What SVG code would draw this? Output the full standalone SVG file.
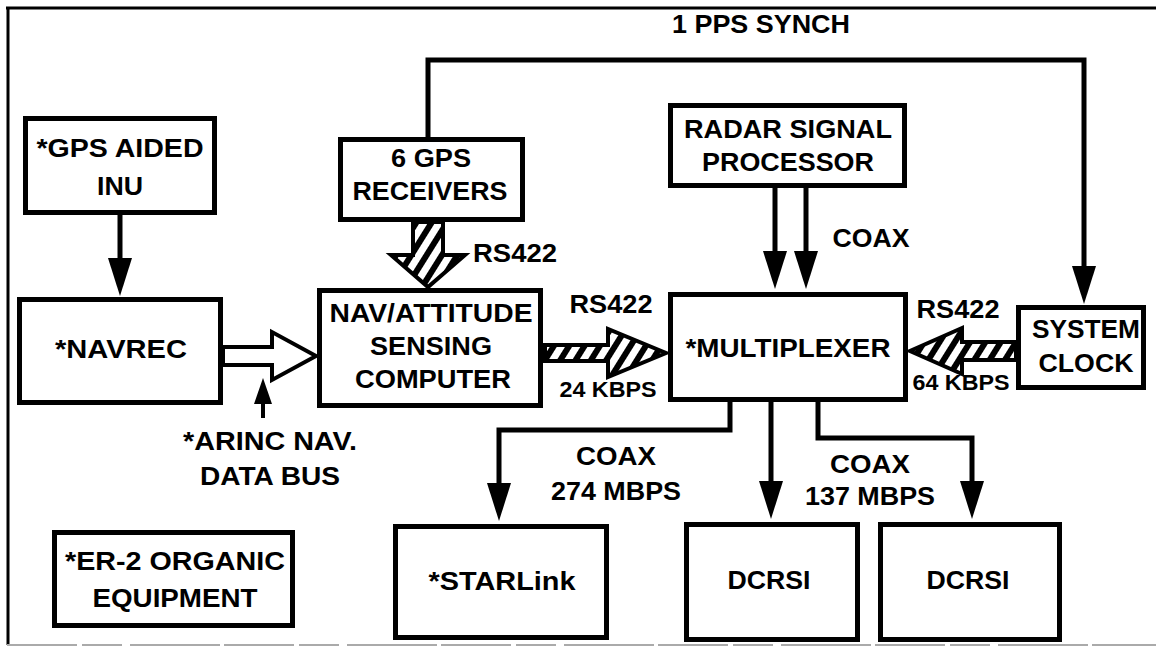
<svg xmlns="http://www.w3.org/2000/svg" width="1156" height="647" viewBox="0 0 1156 647">
<style>
  .box { fill: #fff; stroke: #000; stroke-width: 5; }
  .t { font-family: "Liberation Sans", Arial, Helvetica, sans-serif; font-weight: bold; font-size: 25px; fill: #000; text-anchor: middle; }
  .s { font-size: 22px; }
  .ln { fill: none; stroke: #000; stroke-width: 5; stroke-linejoin: miter; }
  .hatch { fill: url(#hatch); stroke: #000; stroke-width: 4; stroke-linejoin: miter; }
  .hollow { fill: #fff; stroke: #000; stroke-width: 4; stroke-linejoin: miter; }
</style>
<defs>
  <pattern id="hatch" patternUnits="userSpaceOnUse" width="13" height="13" patternTransform="rotate(32)">
    <rect width="13" height="13" fill="#fff"/>
    <rect width="6" height="13" fill="#000"/>
  </pattern>
  <marker id="arr" viewBox="0 0 38 24" markerWidth="38" markerHeight="24" refX="1" refY="12" orient="auto" markerUnits="userSpaceOnUse">
    <path d="M0,0 L38,12 L0,24 Z" fill="#000"/>
  </marker>
  <marker id="arrS" viewBox="0 0 26 18" markerWidth="26" markerHeight="18" refX="1" refY="9" orient="auto" markerUnits="userSpaceOnUse">
    <path d="M0,0 L26,9 L0,18 Z" fill="#000"/>
  </marker>
</defs>
<rect width="1156" height="647" fill="#fff"/>
<g id="frame">
  <line x1="6" y1="8" x2="1156" y2="8" stroke="#000" stroke-width="3"/>
  <line x1="8" y1="7" x2="8" y2="645" stroke="#000" stroke-width="3"/>
  <line x1="7" y1="645" x2="1156" y2="645" stroke="#aaa" stroke-width="2" stroke-dasharray="70 5 40 8 90 4"/>
</g>
<g id="connectors">
  <path class="ln" d="M120,215 V259" marker-end="url(#arr)"/>
  <path class="ln" d="M775,188 V252" marker-end="url(#arr)"/>
  <path class="ln" d="M806,188 V252" marker-end="url(#arr)"/>
  <path class="ln" d="M428,137 V60 H1084 V267" marker-end="url(#arr)"/>
  <path class="ln" d="M730,402 V430 H499 V484" marker-end="url(#arr)"/>
  <path class="ln" d="M771,402 V482" marker-end="url(#arr)"/>
  <path class="ln" d="M818,402 V438 H972 V482" marker-end="url(#arr)"/>
  <path class="ln" d="M263,418 V403" style="stroke-width:4" marker-end="url(#arrS)"/>
  <polygon class="hollow" points="223,347 272,347 272,332 316,356 272,380 272,365 223,365"/>
  <polygon class="hatch" points="413,222 443,222 443,255 465,255 428,287 391,255 413,255"/>
  <polygon class="hatch" points="545,345 608,345 608,329 666,353 608,377 608,361 545,361"/>
  <polygon class="hatch" points="1016,342 962,342 962,328 910,351 962,374 962,360 1016,360"/>
  <text class="t" x="761" y="33" textLength="178" lengthAdjust="spacingAndGlyphs">1 PPS SYNCH</text>
  <text class="t" x="515" y="262" textLength="84" lengthAdjust="spacingAndGlyphs">RS422</text>
  <text class="t" x="611" y="313" textLength="83" lengthAdjust="spacingAndGlyphs">RS422</text>
  <text class="t s" x="608" y="397" textLength="97" lengthAdjust="spacingAndGlyphs">24 KBPS</text>
  <text class="t" x="871" y="247" textLength="77" lengthAdjust="spacingAndGlyphs">COAX</text>
  <text class="t" x="958" y="318" textLength="83" lengthAdjust="spacingAndGlyphs">RS422</text>
  <text class="t s" x="961" y="390" textLength="97" lengthAdjust="spacingAndGlyphs">64 KBPS</text>
  <text class="t" x="270" y="450" textLength="174" lengthAdjust="spacingAndGlyphs">*ARINC NAV.</text>
  <text class="t" x="270" y="485" textLength="140" lengthAdjust="spacingAndGlyphs">DATA BUS</text>
  <text class="t" x="616" y="465" textLength="80" lengthAdjust="spacingAndGlyphs">COAX</text>
  <text class="t" x="616" y="500" textLength="130" lengthAdjust="spacingAndGlyphs">274 MBPS</text>
  <text class="t" x="870" y="473" textLength="80" lengthAdjust="spacingAndGlyphs">COAX</text>
  <text class="t" x="870" y="505" textLength="130" lengthAdjust="spacingAndGlyphs">137 MBPS</text>
</g>
<g id="gps-inu">
  <rect class="box" x="25.5" y="118.5" width="189" height="94"/>
  <text class="t" x="120" y="157" textLength="167" lengthAdjust="spacingAndGlyphs">*GPS AIDED</text>
  <text class="t" x="120" y="195" textLength="46" lengthAdjust="spacingAndGlyphs">INU</text>
</g>
<g id="navrec">
  <rect class="box" x="19.5" y="299.5" width="201" height="103"/>
  <text class="t" x="121" y="358" textLength="132" lengthAdjust="spacingAndGlyphs">*NAVREC</text>
</g>
<g id="gps-receivers">
  <rect class="box" x="340.5" y="139.5" width="182" height="80"/>
  <text class="t" x="431" y="167" textLength="80" lengthAdjust="spacingAndGlyphs">6 GPS</text>
  <text class="t" x="430" y="200" textLength="155" lengthAdjust="spacingAndGlyphs">RECEIVERS</text>
</g>
<g id="radar">
  <rect class="box" x="670.5" y="105.5" width="234" height="80"/>
  <text class="t" x="788" y="138" textLength="208" lengthAdjust="spacingAndGlyphs">RADAR SIGNAL</text>
  <text class="t" x="788" y="171" textLength="172" lengthAdjust="spacingAndGlyphs">PROCESSOR</text>
</g>
<g id="nav-attitude">
  <rect class="box" x="319.5" y="290.5" width="221" height="115"/>
  <text class="t" x="431" y="322" textLength="203" lengthAdjust="spacingAndGlyphs">NAV/ATTITUDE</text>
  <text class="t" x="431" y="355" textLength="122" lengthAdjust="spacingAndGlyphs">SENSING</text>
  <text class="t" x="433" y="388" textLength="156" lengthAdjust="spacingAndGlyphs">COMPUTER</text>
</g>
<g id="multiplexer">
  <rect class="box" x="670.5" y="294.5" width="235" height="105"/>
  <text class="t" x="788" y="357" textLength="205" lengthAdjust="spacingAndGlyphs">*MULTIPLEXER</text>
</g>
<g id="system-clock">
  <rect class="box" x="1018.5" y="307.5" width="125" height="80"/>
  <text class="t" x="1086" y="338" textLength="108" lengthAdjust="spacingAndGlyphs">SYSTEM</text>
  <text class="t" x="1086" y="372" textLength="95" lengthAdjust="spacingAndGlyphs">CLOCK</text>
</g>
<g id="er2">
  <rect class="box" x="54.5" y="532.5" width="238" height="93"/>
  <text class="t" x="175" y="570" textLength="220" lengthAdjust="spacingAndGlyphs">*ER-2 ORGANIC</text>
  <text class="t" x="175" y="607" textLength="165" lengthAdjust="spacingAndGlyphs">EQUIPMENT</text>
</g>
<g id="starlink">
  <rect class="box" x="395.5" y="526.5" width="211" height="111"/>
  <text class="t" x="502" y="590" textLength="147" lengthAdjust="spacingAndGlyphs">*STARLink</text>
</g>
<g id="dcrsi-1">
  <rect class="box" x="686.5" y="524.5" width="171" height="115"/>
  <text class="t" x="769" y="589" textLength="83" lengthAdjust="spacingAndGlyphs">DCRSI</text>
</g>
<g id="dcrsi-2">
  <rect class="box" x="880.5" y="524.5" width="179" height="115"/>
  <text class="t" x="968" y="589" textLength="83" lengthAdjust="spacingAndGlyphs">DCRSI</text>
</g>
</svg>
